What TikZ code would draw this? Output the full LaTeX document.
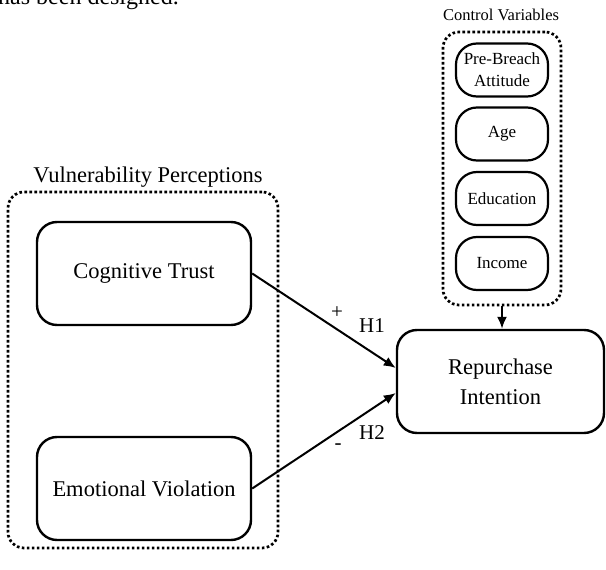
\documentclass[tikz,border=0pt]{standalone}
\usepackage{fontspec}
\setmainfont{Liberation Serif}
\usetikzlibrary{arrows.meta}

\begin{document}
\begin{tikzpicture}[x=1pt, y=-1pt,
    varbox/.style={draw, line width=2.4pt, rounded corners=20pt, minimum width=214pt, minimum height=103pt, font=\fontsize{22.5}{30}\selectfont, align=center},
    ctrlbox/.style={draw, line width=2.2pt, rounded corners=21pt, minimum width=92pt, minimum height=53pt, inner sep=1pt, font=\fontsize{17}{22}\selectfont, align=center},
    groupbox/.style={draw, line width=2.7pt, dash pattern=on 2.6pt off 2.4pt, rounded corners=16pt},
    grouptitle/.style={font=\fontsize{22.5}{27}\selectfont},
    path/.style={line width=2pt, -{Latex[length=12pt,width=10pt]}},
    hyp/.style={font=\fontsize{21}{25}\selectfont}]
            \useasboundingbox (0,0) rectangle (606,570);
            \clip (0,0) rectangle (606,570);
            \node[anchor=base west, inner sep=0pt, font=\fontsize{24}{28}\selectfont] (prev) at (-2,5) {has been designed.};

            % vulnerability perceptions
            \node[groupbox, minimum width=270pt, minimum height=356pt] (vp) at (143,370) {};
            \node[grouptitle] (vptitle) at (148,177) {Vulnerability Perceptions};
            \node[varbox] (ct) at (144,273.5) {Cognitive Trust};
            \node[varbox] (ev) at (144,488.5) {Emotional Violation};

            % outcome
            \node[varbox, minimum width=207pt] (ri) at (500.5,381.5) {Repurchase\\Intention};

            % control variables
            \node[groupbox, minimum width=118pt, minimum height=273pt] (cv) at (502,168.5) {};
            \node[font=\fontsize{16.5}{20}\selectfont] (cvtitle) at (501,15) {Control Variables};
            \node[ctrlbox] (pba) at (502,70) {Pre-Breach\\Attitude};
            \node[ctrlbox] (age) at (502,134) {Age};
            \node[ctrlbox] (edu) at (502,198.5) {Education};
            \node[ctrlbox] (inc) at (502,263.5) {Income};

            \draw[path] (ct.east) -- ([yshift=13.5pt]ri.west);
            \draw[path] (ev.east) -- ([yshift=-11.5pt]ri.west);
            \draw[path] (cv.south) -- (cv.south |- ri.north);

            \node[hyp] (plus) at (337,313) {+};
            \node[hyp] (h1) at (372,326) {H1};
            \node[hyp] (h2) at (372,433) {H2};
            \node[hyp] (minus) at (338,447) {-};
        \end{tikzpicture}
\end{document}
